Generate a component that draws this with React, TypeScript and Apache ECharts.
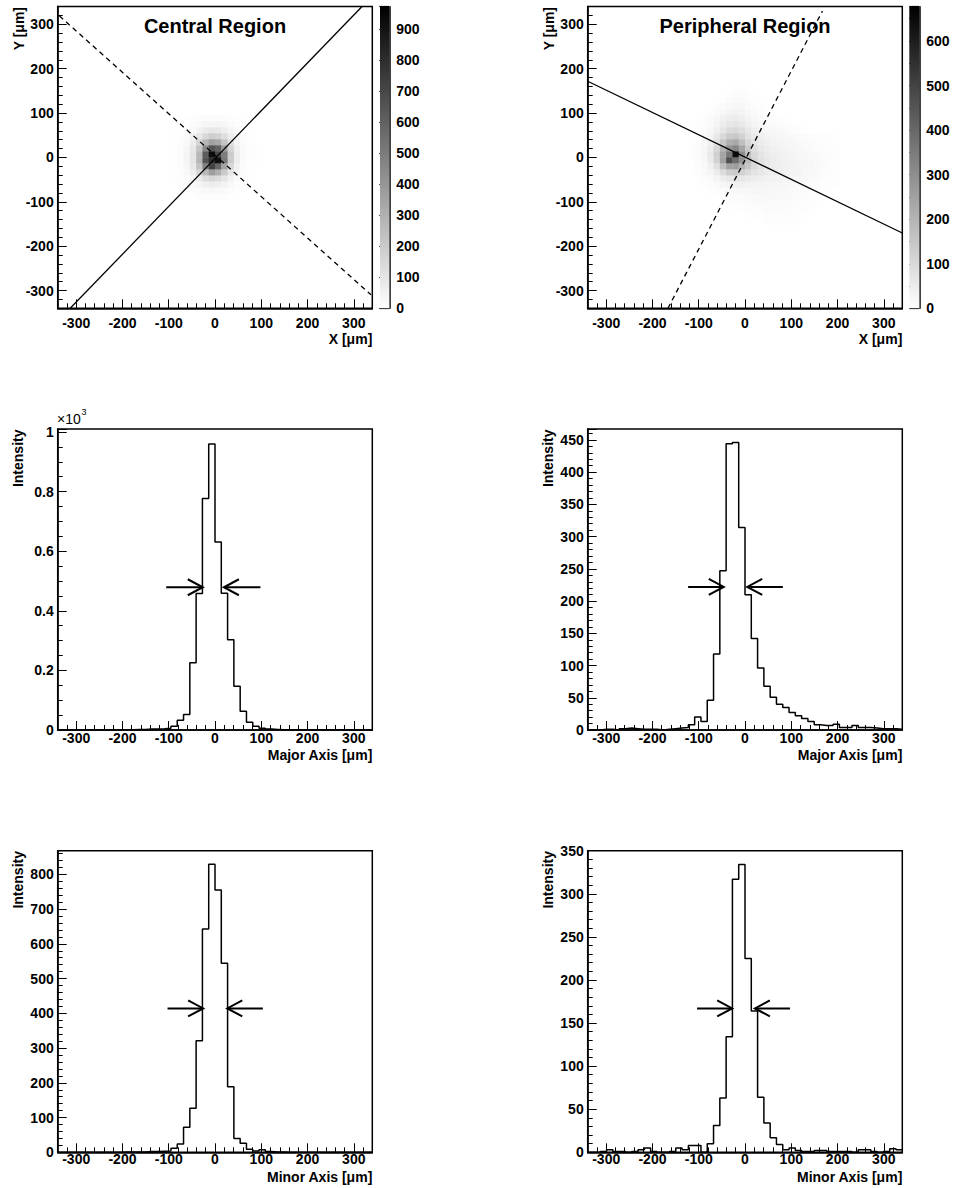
import React, { useEffect, useRef } from "react";
import * as echarts from "echarts";

const FONT = "'Liberation Sans', Arial, Helvetica, sans-serif";
const BIN = 13.6;
const X_MIN = -340;
const X_MAX = 340;
const Y_MIN = -340;
const Y_MAX = 340;

// ---------- 1D histograms (50 bins from -340 to 340) ----------
const centralMajor = [
  0, 0, 0, 0, 0, 0, 0, 0, 1, 1, 1, 1, 2, 2, 3, 3, 4, 6, 13, 33,
  52, 226, 458, 777, 960, 631, 459, 303, 147, 63, 26, 13, 6, 3, 2, 1, 0, 0, 0, 0,
  0, 0, 0, 0, 0, 0, 0, 0, 0, 0,
];
const peripheralMajor = [
  0, 0, 1, 1, 0, 2, 3, 2, 1, 1, 1, 0, 1, 2, 3, 4, 8, 20, 13, 46,
  118, 247, 444, 446, 314, 210, 142, 96, 68, 51, 40, 35, 27, 22, 18, 13, 8, 7, 7, 9,
  4, 4, 7, 4, 4, 3, 2, 2, 2, 1,
];
const centralMinor = [
  0, 0, 0, 0, 0, 0, 0, 0, 0, 0, 1, 1, 1, 1, 2, 2, 3, 4, 12, 24,
  72, 127, 321, 643, 829, 755, 544, 189, 40, 26, 9, 4, 7, 2, 1, 1, 0, 0, 0, 0,
  0, 0, 0, 0, 0, 0, 0, 0, 0, 0,
];
const peripheralMinor = [
  0, 0, 1, 3, 1, 1, 0, 1, 3, 5, 1, 0, 0, 1, 5, 3, 8, 8, 0, 10,
  31, 63, 134, 317, 334, 225, 164, 64, 34, 17, 9, 3, 5, 2, 1, 1, 2, 2, 1, 1,
  1, 1, 0, 3, 3, 1, 0, 1, 4, 3,
];

// axis maxima (1.05 x peak, as drawn)
const centralMajorMax = 1010;
const peripheralMajorMax = 467;
const centralMinorMax = 868;
const peripheralMinorMax = 350;

// FWHM arrows: [half max, left FWHM point, right FWHM point, arrow length]
const centralMajorArrow = [479, -26.4, 19.2, 79];
const peripheralMajorArrow = [222, -45.9, 4.8, 77];
const centralMinorArrow = [414, -25.6, 26.5, 77];
const peripheralMinorArrow = [167, -27.7, 21.4, 76];

// ---------- 2D maps ----------
// central: rows j=18..31 (top to bottom), columns k=18..31
const centralK0 = 18;
const centralJ0 = 18;
const centralCells = [
  [0, 2, 4, 6, 10, 14, 16, 16, 13, 8, 4, 2, 0, 0],
  [1, 3, 7, 14, 24, 34, 40, 40, 32, 20, 10, 4, 1, 0],
  [2, 5, 12, 28, 50, 75, 90, 85, 65, 40, 20, 8, 3, 1],
  [3, 8, 20, 48, 95, 150, 185, 170, 125, 70, 32, 12, 4, 1],
  [4, 10, 28, 70, 160, 280, 360, 330, 220, 110, 45, 15, 5, 2],
  [5, 12, 34, 90, 220, 450, 650, 600, 370, 160, 60, 18, 6, 2],
  [5, 14, 38, 100, 270, 620, 930, 700, 500, 200, 70, 20, 6, 2],
  [5, 14, 38, 100, 280, 650, 800, 920, 520, 200, 70, 20, 6, 2],
  [4, 12, 32, 85, 220, 480, 720, 580, 350, 150, 55, 16, 5, 2],
  [3, 9, 26, 64, 150, 270, 370, 310, 200, 95, 38, 12, 4, 1],
  [2, 6, 17, 40, 80, 125, 155, 135, 95, 50, 22, 8, 3, 1],
  [1, 4, 10, 22, 38, 58, 68, 60, 44, 26, 12, 5, 2, 0],
  [0, 2, 5, 10, 16, 23, 27, 24, 18, 11, 6, 2, 1, 0],
  [0, 1, 2, 4, 7, 9, 11, 10, 8, 5, 2, 1, 0, 0],
];
const centralZMax = 972;

// peripheral: rows j=12..36, columns k=16..40
const peripheralK0 = 16;
const peripheralJ0 = 12;
const peripheralCells = [
  [0, 0, 0, 0, 0, 0, 0, 3, 2, 0, 0, 0, 0, 0, 0, 0, 0, 0, 0, 0, 0, 0, 0, 0, 0],
  [0, 0, 0, 0, 0, 0, 2, 5, 6, 3, 0, 0, 0, 0, 0, 0, 0, 0, 0, 0, 0, 0, 0, 0, 0],
  [0, 0, 0, 0, 0, 3, 6, 10, 12, 6, 2, 0, 0, 0, 0, 0, 0, 0, 0, 0, 0, 0, 0, 0, 0],
  [0, 0, 0, 0, 3, 6, 10, 14, 14, 10, 5, 2, 0, 0, 0, 0, 0, 0, 0, 0, 0, 0, 0, 0, 0],
  [0, 0, 0, 3, 6, 12, 18, 22, 20, 14, 8, 4, 2, 0, 0, 0, 0, 0, 0, 0, 0, 0, 0, 0, 0],
  [0, 0, 3, 6, 12, 22, 30, 34, 30, 20, 12, 7, 4, 2, 0, 0, 0, 0, 0, 0, 0, 0, 0, 0, 0],
  [0, 3, 6, 12, 22, 35, 45, 50, 42, 30, 20, 14, 10, 8, 5, 3, 0, 0, 0, 0, 0, 0, 0, 0, 0],
  [0, 4, 8, 16, 30, 48, 65, 70, 60, 42, 30, 22, 16, 12, 9, 6, 4, 2, 0, 0, 0, 0, 0, 0, 0],
  [2, 5, 10, 22, 40, 70, 95, 100, 85, 60, 40, 30, 24, 20, 16, 12, 8, 5, 3, 0, 0, 0, 0, 0, 0],
  [3, 6, 14, 30, 60, 100, 140, 150, 120, 80, 55, 40, 32, 26, 22, 18, 15, 12, 10, 8, 6, 4, 3, 2, 0],
  [3, 8, 18, 40, 85, 150, 210, 230, 170, 110, 70, 50, 40, 32, 28, 24, 20, 17, 14, 11, 8, 6, 4, 3, 0],
  [4, 10, 22, 50, 110, 200, 290, 320, 240, 140, 85, 60, 48, 40, 34, 29, 25, 21, 17, 14, 11, 8, 6, 4, 0],
  [4, 10, 24, 55, 125, 240, 360, 645, 300, 170, 100, 70, 55, 46, 40, 34, 29, 25, 21, 17, 14, 10, 7, 5, 0],
  [3, 9, 22, 50, 120, 250, 470, 390, 290, 180, 110, 78, 60, 50, 43, 37, 31, 27, 23, 19, 15, 11, 8, 5, 0],
  [3, 7, 17, 38, 85, 170, 250, 260, 200, 150, 100, 75, 60, 50, 44, 38, 33, 28, 24, 20, 16, 12, 8, 5, 0],
  [0, 5, 12, 25, 50, 90, 130, 140, 120, 95, 75, 60, 50, 44, 38, 34, 30, 26, 22, 18, 15, 11, 8, 5, 0],
  [0, 3, 7, 14, 26, 45, 62, 68, 64, 56, 48, 42, 38, 34, 30, 27, 24, 21, 18, 15, 12, 9, 6, 4, 0],
  [0, 0, 4, 8, 14, 22, 30, 34, 36, 34, 32, 30, 28, 26, 24, 22, 19, 17, 14, 11, 9, 6, 4, 2, 0],
  [0, 0, 0, 4, 7, 11, 15, 18, 21, 22, 23, 23, 22, 21, 20, 18, 16, 14, 11, 8, 6, 4, 2, 0, 0],
  [0, 0, 0, 0, 3, 5, 8, 10, 13, 15, 17, 18, 18, 18, 17, 15, 13, 11, 9, 7, 5, 3, 0, 0, 0],
  [0, 0, 0, 0, 0, 3, 4, 6, 8, 10, 12, 13, 14, 14, 14, 13, 11, 9, 7, 5, 3, 0, 0, 0, 0],
  [0, 0, 0, 0, 0, 0, 0, 3, 5, 6, 8, 9, 10, 11, 11, 10, 9, 7, 5, 3, 0, 0, 0, 0, 0],
  [0, 0, 0, 0, 0, 0, 0, 0, 0, 3, 5, 6, 7, 8, 8, 8, 7, 5, 3, 0, 0, 0, 0, 0, 0],
  [0, 0, 0, 0, 0, 0, 0, 0, 0, 0, 0, 3, 4, 5, 5, 5, 4, 3, 0, 0, 0, 0, 0, 0, 0],
  [0, 0, 0, 0, 0, 0, 0, 0, 0, 0, 0, 0, 0, 2, 3, 3, 2, 0, 0, 0, 0, 0, 0, 0, 0],
];
const peripheralZMax = 677;

// principal axes drawn on the maps (end points in µm)
const centralSolidLine = [[-313, -340], [317.8, 340]];
const centralDashedLine = [[-336.5, 319], [337.3, -309.6]];
const peripheralSolidLine = [[-340, 171.5], [340, -170.3]];
const peripheralDashedLine = [[-166.5, -340], [167.5, 330]];

// ---------- layout ----------
const L1 = 57.7;
const L2 = 587.7;
const PW = 314.6;
const T1 = 6.5;
const H1 = 301.8;
const T2 = 429;
const H2 = 301;
const T3 = 850.7;
const H3 = 301.6;

const lbl = { color: "#000", fontFamily: FONT, fontWeight: "bold", fontSize: 14 };

function histPoints(vals: number[]) {
  const pts = vals.map((v, k) => [X_MIN + BIN * k, v]);
  pts.push([X_MAX, vals[vals.length - 1]]);
  return pts;
}

function cellData(grid: number[][], k0: number, j0: number) {
  const out: number[][] = [];
  grid.forEach((row, r) =>
    row.forEach((v, c) => {
      if (v > 0) out.push([X_MIN + BIN * (k0 + c + 0.5), Y_MAX - BIN * (j0 + r + 0.5), v]);
    })
  );
  return out;
}

function plotX(gi: number, margin: number) {
  return {
    gridIndex: gi,
    type: "value",
    min: X_MIN,
    max: X_MAX,
    axisLine: { show: true, onZero: false, lineStyle: { color: "#000", width: 1.5 } },
    axisTick: { show: true, inside: true, length: 9, lineStyle: { color: "#000", width: 1 } },
    minorTick: { show: true, splitNumber: 5, length: 5, lineStyle: { color: "#000", width: 1 } },
    splitLine: { show: false },
    minorSplitLine: { show: false },
    axisLabel: {
      ...lbl,
      margin,
      formatter: (v: number) => (Math.abs(v % 100) < 1e-6 ? String(v) : ""),
    },
  };
}

function plotY(
  gi: number,
  min: number,
  max: number,
  splitNumber: number,
  minorSplit: number,
  step: number,
  fmt: (v: number) => string
) {
  return {
    gridIndex: gi,
    type: "value",
    min,
    max,
    splitNumber,
    axisLine: { show: true, onZero: false, lineStyle: { color: "#000", width: 1.5 } },
    axisTick: { show: true, inside: true, length: 9, lineStyle: { color: "#000", width: 1 } },
    minorTick: { show: true, splitNumber: minorSplit, length: 5, lineStyle: { color: "#000", width: 1 } },
    splitLine: { show: false },
    minorSplitLine: { show: false },
    axisLabel: {
      ...lbl,
      margin: 4,
      formatter: (v: number) => (Math.abs(v % step) < 1e-6 ? fmt(v) : ""),
    },
  };
}

function cbX(gi: number) {
  return { gridIndex: gi, type: "category", data: ["z"], show: false };
}

function cbY(gi: number, max: number) {
  return {
    gridIndex: gi,
    type: "value",
    position: "right",
    min: 0,
    max,
    splitNumber: 10,
    axisLine: { show: true, lineStyle: { color: "#000", width: 1.5 } },
    axisTick: { show: true, inside: true, length: 10, lineStyle: { color: "#000", width: 1.2 } },
    splitLine: { show: false },
    axisLabel: {
      ...lbl,
      margin: 7,
      formatter: (v: number) => (Math.abs(v % 100) < 1e-6 ? String(v) : ""),
    },
  };
}

function heatSeries(gi: number, data: number[][], zmax: number) {
  return {
    type: "custom",
    xAxisIndex: gi,
    yAxisIndex: gi,
    data,
    encode: { x: 0, y: 1 },
    renderItem: (params: any, api: any) => {
      const x = api.value(0);
      const y = api.value(1);
      const v = api.value(2);
      const p0 = api.coord([x - BIN / 2, y + BIN / 2]);
      const p1 = api.coord([x + BIN / 2, y - BIN / 2]);
      const g = Math.round(255 * (1 - Math.min(1, v / zmax)));
      return {
        type: "rect",
        shape: { x: p0[0], y: p0[1], width: p1[0] - p0[0] + 0.4, height: p1[1] - p0[1] + 0.4 },
        style: { fill: `rgb(${g},${g},${g})` },
      };
    },
  };
}

function lineSeries(gi: number, data: number[][], dashed: boolean) {
  return {
    type: "line",
    xAxisIndex: gi,
    yAxisIndex: gi,
    data,
    symbol: "none",
    clip: true,
    lineStyle: { color: "#000", width: 1.3, type: dashed ? [5, 4] : "solid" },
  };
}

function histSeries(gi: number, vals: number[]) {
  return {
    type: "line",
    xAxisIndex: gi,
    yAxisIndex: gi,
    data: histPoints(vals),
    step: "end",
    symbol: "none",
    clip: true,
    lineStyle: { color: "#000", width: 1.5 },
  };
}

function arrowSeries(gi: number, arrow: number[]) {
  return {
    type: "custom",
    xAxisIndex: gi,
    yAxisIndex: gi,
    data: [arrow],
    encode: { x: 1, y: 0 },
    renderItem: (params: any, api: any) => {
      const y = api.value(0);
      const l = api.value(1);
      const r = api.value(2);
      const len = api.value(3);
      const lt = api.coord([l - len, y]);
      const lp = api.coord([l, y]);
      const rp = api.coord([r, y]);
      const rt = api.coord([r + len, y]);
      const st = { stroke: "#000", lineWidth: 2, fill: "none" };
      return {
        type: "group",
        children: [
          { type: "line", shape: { x1: lt[0], y1: lt[1], x2: lp[0], y2: lp[1] }, style: st },
          {
            type: "polyline",
            shape: { points: [[lp[0] - 15, lp[1] - 8], [lp[0], lp[1]], [lp[0] - 15, lp[1] + 8]] },
            style: st,
          },
          { type: "line", shape: { x1: rt[0], y1: rt[1], x2: rp[0], y2: rp[1] }, style: st },
          {
            type: "polyline",
            shape: { points: [[rp[0] + 15, rp[1] - 8], [rp[0], rp[1]], [rp[0] + 15, rp[1] + 8]] },
            style: st,
          },
        ],
      };
    },
  };
}

function cbSeries(gi: number, max: number) {
  return {
    type: "bar",
    xAxisIndex: gi,
    yAxisIndex: gi,
    data: [max],
    barWidth: "100%",
    itemStyle: {
      color: new echarts.graphic.LinearGradient(0, 0, 0, 1, [
        { offset: 0, color: "#000" },
        { offset: 1, color: "#fff" },
      ]),
    },
  };
}

function txt(x: number, y: number, text: string, opts: any = {}) {
  const size = opts.size || 14;
  const align = opts.align || "right";
  return {
    type: "text",
    x,
    y,
    rotation: opts.rotation || 0,
    style: {
      text,
      font: `${opts.normal ? "normal" : "bold"} ${size}px ${FONT}`,
      fill: "#000",
      align,
      textAlign: align,
      verticalAlign: "middle",
      textVerticalAlign: "middle",
    },
  };
}

export default function App() {
  const ref = useRef<HTMLDivElement>(null);
  useEffect(() => {
    if (!ref.current) return;
    const chart = echarts.init(ref.current, null, { renderer: "svg" });
    const gridBox = (left: number, top: number, width: number, height: number, border = true) => ({
      left,
      top,
      width,
      height,
      show: border,
      borderColor: "#000",
      borderWidth: 1.5,
      backgroundColor: "transparent",
    });
    const ROT = Math.PI / 2;
    chart.setOption({
      animation: false,
      backgroundColor: "#fff",
      grid: [
        gridBox(L1, T1, PW, H1),
        gridBox(380, 6.7, 9.3, 301.6, false),
        gridBox(L2, T1, PW, H1),
        gridBox(909.3, 6.7, 10, 301.6, false),
        gridBox(L1, T2, PW, H2),
        gridBox(L2, T2, PW, H2),
        gridBox(L1, T3, PW, H3),
        gridBox(L2, T3, PW, H3),
      ],
      xAxis: [
        plotX(0, 8),
        cbX(1),
        plotX(2, 8),
        cbX(3),
        plotX(4, 0.5),
        plotX(5, 0.5),
        plotX(6, 0),
        plotX(7, 0),
      ],
      yAxis: [
        plotY(0, Y_MIN, Y_MAX, 5, 5, 100, (v) => String(v)),
        cbY(1, centralZMax),
        plotY(2, Y_MIN, Y_MAX, 5, 5, 100, (v) => String(v)),
        cbY(3, peripheralZMax),
        plotY(4, 0, centralMajorMax, 5, 4, 200, (v) => String(v / 1000)),
        plotY(5, 0, peripheralMajorMax, 9, 5, 50, (v) => String(v)),
        plotY(6, 0, centralMinorMax, 8, 5, 100, (v) => String(v)),
        plotY(7, 0, peripheralMinorMax, 7, 5, 50, (v) => String(v)),
      ],
      series: [
        heatSeries(0, cellData(centralCells, centralK0, centralJ0), centralZMax),
        lineSeries(0, centralSolidLine, false),
        lineSeries(0, centralDashedLine, true),
        cbSeries(1, centralZMax),
        heatSeries(2, cellData(peripheralCells, peripheralK0, peripheralJ0), peripheralZMax),
        lineSeries(2, peripheralSolidLine, false),
        lineSeries(2, peripheralDashedLine, true),
        cbSeries(3, peripheralZMax),
        histSeries(4, centralMajor),
        arrowSeries(4, centralMajorArrow),
        histSeries(5, peripheralMajor),
        arrowSeries(5, peripheralMajorArrow),
        histSeries(6, centralMinor),
        arrowSeries(6, centralMinorArrow),
        histSeries(7, peripheralMinor),
        arrowSeries(7, peripheralMinorArrow),
      ],
      graphic: [
        txt(L1 + PW / 2, 26, "Central Region", { size: 20, align: "center" }),
        txt(L2 + PW / 2, 26, "Peripheral Region", { size: 20, align: "center" }),
        txt(L1 + PW, 339, "X [μm]"),
        txt(L2 + PW, 339, "X [μm]"),
        txt(19, 7, "Y [μm]", { rotation: ROT }),
        txt(549, 7, "Y [μm]", { rotation: ROT }),
        txt(L1 + PW, 755, "Major Axis [μm]"),
        txt(L2 + PW, 755, "Major Axis [μm]"),
        txt(L1 + PW, 1177, "Minor Axis [μm]"),
        txt(L2 + PW, 1177, "Minor Axis [μm]"),
        txt(18.3, 429.5, "Intensity", { rotation: ROT }),
        txt(548.3, 429.5, "Intensity", { rotation: ROT }),
        txt(18.3, 851, "Intensity", { rotation: ROT }),
        txt(548.3, 851, "Intensity", { rotation: ROT }),
        txt(57, 419, "×10", { normal: true, align: "left" }),
        txt(81.5, 412, "3", { normal: true, align: "left", size: 9 }),
      ],
    });
    return () => chart.dispose();
  }, []);
  return (
    <div
      ref={ref}
      style={{ position: "absolute", left: 0, top: 0, width: 955, height: 1188 }}
    />
  );
}
